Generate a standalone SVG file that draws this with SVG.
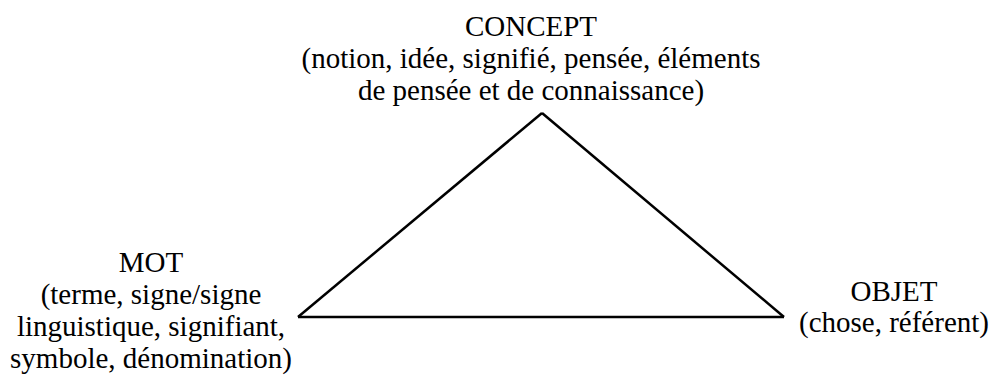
<svg xmlns="http://www.w3.org/2000/svg" width="993" height="376" viewBox="0 0 993 376">
<style>
text{font-family:"Liberation Serif","Times New Roman",serif;font-size:29px;fill:#000;text-anchor:middle}
.edge{stroke:#000;stroke-width:2.5;fill:none;stroke-linejoin:miter}
</style>
<rect width="993" height="376" fill="#fff"/>
<g id="connectors">
<line class="edge" x1="542" y1="113" x2="298" y2="317"/>
<line class="edge" x1="542" y1="113" x2="784" y2="317"/>
<line class="edge" x1="298" y1="317" x2="784" y2="317"/>
</g>
<g id="concept">
<text x="531" y="36">CONCEPT</text>
<text x="531" y="68">(notion, idée, signifié, pensée, éléments</text>
<text x="531" y="100">de pensée et de connaissance)</text>
</g>
<g id="mot">
<text x="151" y="272">MOT</text>
<text x="151" y="304">(terme, signe/signe</text>
<text x="151" y="336">linguistique, signifiant,</text>
<text x="151" y="368">symbole, dénomination)</text>
</g>
<g id="objet">
<text x="894" y="301">OBJET</text>
<text x="894" y="332">(chose, référent)</text>
</g>
</svg>
